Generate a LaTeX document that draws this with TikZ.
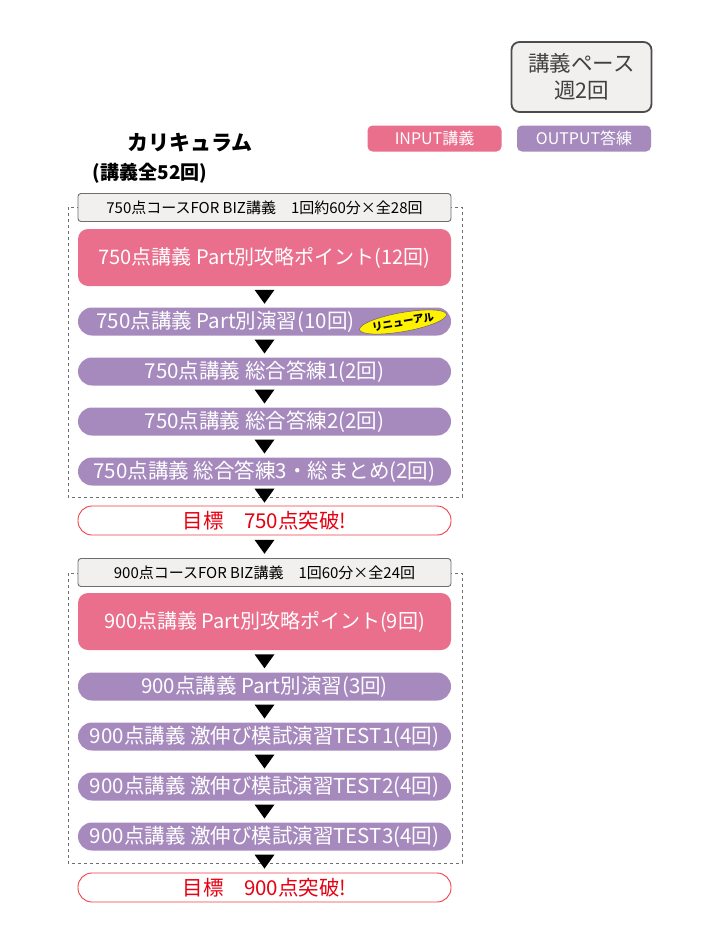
\documentclass[tikz,border=0pt]{standalone}
\usepackage{fontspec}
\setmainfont{Noto Sans CJK JP}
\usetikzlibrary{calc,shapes.geometric}

\definecolor{inpink}{RGB}{233,111,141}
\definecolor{outpurple}{RGB}{166,138,190}
\definecolor{hdrfill}{RGB}{242,240,238}
\definecolor{hdrline}{RGB}{110,110,110}
\definecolor{goalline}{RGB}{240,62,72}
\definecolor{goaltext}{RGB}{230,0,18}

\newcommand\fs[1]{\fontsize{#1}{#1}\selectfont}
% little black arrow between two boxes
\newcommand\downtri[2]{\fill ($(#1.south)!0.5!(#2.north)$) +(-10,-7) -- +(10,-7) -- +(0,7) -- cycle;}

\tikzset{
	hdr/.style={draw=hdrline, fill=hdrfill, line width=0.9pt, rounded corners=3pt, minimum width=373, minimum height=28, inner sep=0, font=\fs{15}},
	inbox/.style={fill=inpink, rounded corners=10pt, minimum width=373, minimum height=57, inner sep=0, text=white, font=\fs{20}},
	outbox/.style={fill=outpurple, rounded corners=14pt, minimum width=373, minimum height=28, inner sep=0, text=white, font=\fs{20.5}},
	goalbox/.style={draw=goalline, fill=white, line width=0.9pt, rounded corners=14pt, minimum width=373, minimum height=29, inner sep=0, text=goaltext, font=\fs{20.5}},
	tag/.style={rounded corners=5pt, minimum width=134, minimum height=26, inner sep=0, text=white, font=\fs{16}},
	frame/.style={draw=hdrline, dashed, line width=0.8pt}
}

\begin{document}
\begin{tikzpicture}[x=1pt, y=-1pt]
	%%%%% START %%%%%
	\useasboundingbox (0,0) rectangle (720,934);
	
	% top right
	\node[draw=black!70, fill=hdrfill, line width=1.8pt, rounded corners=8pt, minimum width=140, minimum height=70, align=center, text=black!75, font=\fs{21.5}] (pace) at (581.5,77) {講義ペース\\[5pt]週2回};
	\node[tag, fill=inpink] (inp) at (434.5,138.5) {INPUT講義};
	\node[tag, fill=outpurple] (outp) at (584,138.5) {OUTPUT答練};
	
	\node[font=\bfseries\fs{21}] (title) at (190,143) {カリキュラム};
	\node[font=\bfseries\fs{19}] (total) at (150,173) {(講義全52回)};
	
	% 750
	\draw[frame] (68,207) rectangle (462,497);
	\node[hdr] (h1) at (264.5,207.5) {750点コースFOR BIZ講義　1回約60分×全28回};
	\node[inbox] (a1) at (264.5,257.5) {750点講義 Part別攻略ポイント(12回)};
	\node[outbox] (a2) at (264.5,321.5) {};
	\node[text=white, font=\fs{20.5}] (a2t) at ([xshift=-39]a2.center) {750点講義 Part別演習(10回)};
	\node[ellipse, fill=yellow, draw=black!60, line width=0.5pt, rotate=10, minimum width=76, minimum height=19, inner sep=0, font=\bfseries\fs{10.5}] (new) at (403,322) {リニューアル};
	\node[outbox] (a3) at (264.5,371.5) {750点講義 総合答練1(2回)};
	\node[outbox] (a4) at (264.5,421.5) {750点講義 総合答練2(2回)};
	\node[outbox] (a5) at (264.5,471.5) {750点講義 総合答練3・総まとめ(2回)};
	\node[goalbox] (g1) at (264.5,520.5) {目標　750点突破!};
	
	% 900
	\draw[frame] (68,573) rectangle (462,863);
	\node[hdr] (h2) at (264.5,572.5) {900点コースFOR BIZ講義　1回60分×全24回};
	\node[inbox] (b1) at (264.5,621.5) {900点講義 Part別攻略ポイント(9回)};
	\node[outbox] (b2) at (264.5,686.5) {900点講義 Part別演習(3回)};
	\node[outbox] (b3) at (264.5,736.5) {900点講義 激伸び模試演習TEST1(4回)};
	\node[outbox] (b4) at (264.5,786.5) {900点講義 激伸び模試演習TEST2(4回)};
	\node[outbox] (b5) at (264.5,836.5) {900点講義 激伸び模試演習TEST3(4回)};
	\node[goalbox] (g2) at (264.5,887.5) {目標　900点突破!};
	
	% arrows
	\downtri{a1}{a2}
	\downtri{a2}{a3}
	\downtri{a3}{a4}
	\downtri{a4}{a5}
	\downtri{a5}{g1}
	\downtri{g1}{h2}
	\downtri{b1}{b2}
	\downtri{b2}{b3}
	\downtri{b3}{b4}
	\downtri{b4}{b5}
	\downtri{b5}{g2}
	%%%%% END %%%%%
\end{tikzpicture}
\end{document}
